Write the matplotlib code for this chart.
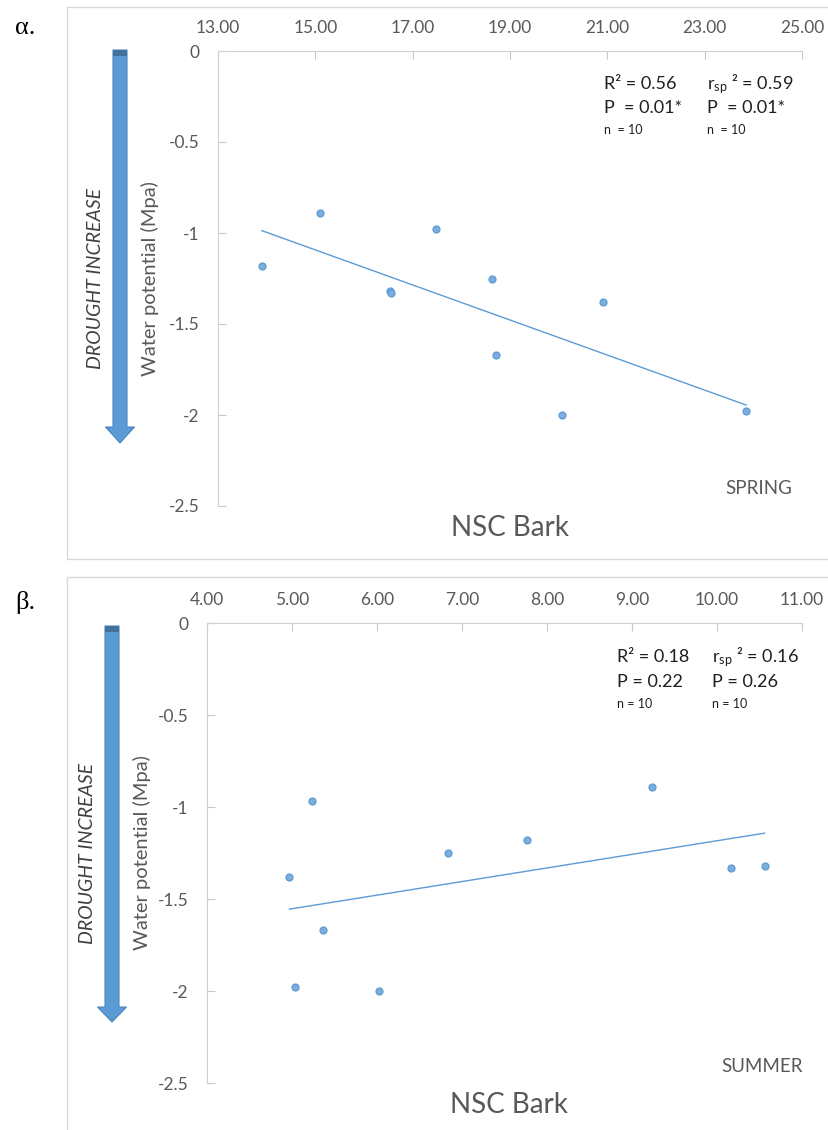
import matplotlib.pyplot as plt
from matplotlib.patches import Rectangle, Polygon

W, H = 829, 1130

# spring panel (alpha)
spring_x = [13.90, 15.10, 16.53, 16.55, 17.48, 18.64, 18.71, 20.06, 20.92, 23.85]
spring_y = [-1.18, -0.89, -1.32, -1.33, -0.98, -1.25, -1.67, -2.00, -1.38, -1.98]
spring_fit = [-0.0963, 0.3516]  # slope, intercept of the trend line
spring_xticks = [13, 15, 17, 19, 21, 23, 25]
spring_stats = ['R² = 0.56', 'P  = 0.01*', 'n  = 10']
spring_stats_sp = [r'$\mathregular{r_{sp}}$ ² = 0.59', 'P  = 0.01*', 'n  = 10']

# summer panel (beta)
summer_x = [4.97, 5.04, 5.23, 5.37, 6.02, 6.84, 7.77, 9.23, 10.16, 10.56]
summer_y = [-1.38, -1.98, -0.97, -1.67, -2.00, -1.25, -1.18, -0.89, -1.33, -1.32]
summer_fit = [0.0739, -1.9225]
summer_xticks = [4, 5, 6, 7, 8, 9, 10, 11]
summer_stats = ['R² = 0.18', 'P = 0.22', 'n = 10']
summer_stats_sp = [r'$\mathregular{r_{sp}}$ ² = 0.16', 'P = 0.26', 'n = 10']

yticks = [0, -0.5, -1, -1.5, -2, -2.5]
ytick_labels = ['0', '-0.5', '-1', '-1.5', '-2', '-2.5']

BLUE = '#5B9BD5'
GREY = '#595959'
plt.rcParams['font.family'] = ['Lato', 'DejaVu Sans']

fig = plt.figure(figsize=(W / 100, H / 100), dpi=100)


def fx(x):
    return x / W


def fy(y):
    return 1 - y / H


def panel(box, x, y, fit, xticks, stats, stats_sp, season, lay):
    left, top, right, bottom = box
    ax = fig.add_axes([fx(left), fy(bottom), fx(right) - fx(left), fy(top) - fy(bottom)])
    ax.set_xlim(xticks[0], xticks[-1])
    ax.set_ylim(-2.5, 0)
    ax.plot(x, y, 'o', ms=5, mfc='#7FAEDE', mec=BLUE, mew=0.9, zorder=3)
    xl = [min(x), max(x)]
    ax.plot(xl, [fit[0] * v + fit[1] for v in xl], color=BLUE, lw=1)

    ax.xaxis.tick_top()
    ax.set_xticks(xticks)
    ax.set_xticklabels(['%.2f' % t for t in xticks])
    ax.set_yticks(yticks)
    ax.set_yticklabels(ytick_labels)
    for s in ['bottom', 'right']:
        ax.spines[s].set_visible(False)
    for s in ['top', 'left']:
        ax.spines[s].set_color('#D0D0D0')
    ax.tick_params(direction='in', length=6, color='#C8C8C8', labelcolor=GREY, labelsize=12.5)
    ax.tick_params(axis='x', pad=11)
    ax.tick_params(axis='y', pad=13.5)

    # chart area border
    bx = lay['frame']
    fig.add_artist(Rectangle((fx(bx[0]), fy(bx[3])), fx(bx[2]) - fx(bx[0]), fy(bx[1]) - fy(bx[3]),
                             transform=fig.transFigure, fill=False, ec='#D9D9D9', lw=1))

    # stats text
    for col_x, lines in [(lay['c1'], stats), (lay['c2'], stats_sp)]:
        for i, t in enumerate(lines):
            fig.text(fx(col_x), fy(lay['rows'][i]), t, fontsize=13 if i < 2 else 9,
                     color='#1F1F1F', va='center', ha='left')

    fig.text(fx(lay['season'][0]), fy(lay['season'][1]), season, fontsize=13.5, color=GREY,
             ha='right', va='center')
    fig.text(fx(lay['xlabel'][0]), fy(lay['xlabel'][1]), 'NSC Bark', fontsize=20, color=GREY,
             ha='center', va='center')
    ymid = (top + bottom) / 2
    fig.text(fx(lay['ylabel']), fy(ymid), 'Water potential (Mpa)', fontsize=14.5, color=GREY,
             rotation=90, ha='center', va='center')
    fig.text(fx(lay['drought']), fy(ymid), 'DROUGHT INCREASE', fontsize=14, color='#404040',
             style='italic', rotation=90, ha='center', va='center')

    # drought arrow
    cx, t0, hb, tip = lay['arrow']
    pts = [(cx - 7, t0), (cx + 7, t0), (cx + 7, hb), (cx + 14.5, hb), (cx, tip),
           (cx - 14.5, hb), (cx - 7, hb)]
    fig.add_artist(Polygon([(fx(a), fy(b)) for a, b in pts], closed=True, transform=fig.transFigure,
                           fc=BLUE, ec='#4A86C0', lw=0.8))
    fig.add_artist(Rectangle((fx(cx - 7), fy(t0 + 6)), 14 / W, 6 / H, transform=fig.transFigure,
                             fc='#41719C', ec='none'))
    fig.text(fx(15), fy(lay['tag_y']), lay['tag'], family='Liberation Serif', fontsize=19,
             ha='left', va='center', color='black')
    return ax


panel((218, 51, 802, 506), spring_x, spring_y, spring_fit, spring_xticks, spring_stats, spring_stats_sp,
      'SPRING',
      dict(frame=(67, 7, 845, 559), c1=604, c2=707, rows=[84, 108, 130], season=(792, 489),
           xlabel=(510, 528), ylabel=150, drought=96, arrow=(120, 50, 427, 443), tag='α.', tag_y=28))
panel((207, 623, 802, 1083), summer_x, summer_y, summer_fit, summer_xticks, summer_stats, summer_stats_sp,
      'SUMMER',
      dict(frame=(67, 577, 845, 1145), c1=617, c2=712, rows=[657, 682, 704], season=(803, 1066),
           xlabel=(509, 1105), ylabel=142, drought=88, arrow=(112, 626, 1007, 1022), tag='β.', tag_y=602))

fig.savefig('out.png', dpi=100)
